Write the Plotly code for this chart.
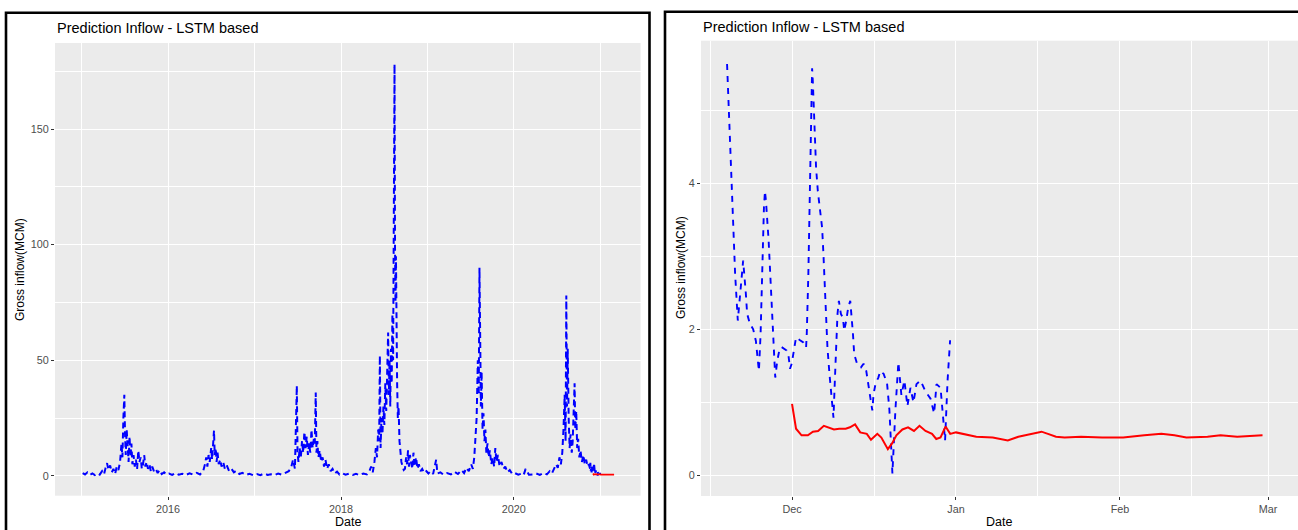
import pandas as pd
import plotly.graph_objects as go

# ---------------- data ----------------
hist_dates = [
    "2015-01-05", "2015-01-15", "2015-01-25", "2015-02-05", "2015-02-15", "2015-02-25", "2015-03-08", "2015-03-18",
    "2015-03-28", "2015-04-05", "2015-04-12", "2015-04-18", "2015-04-24", "2015-05-01", "2015-05-08", "2015-05-15",
    "2015-05-22", "2015-05-29", "2015-06-05", "2015-06-12", "2015-06-18", "2015-06-22", "2015-06-26", "2015-06-30",
    "2015-07-03", "2015-07-06", "2015-07-10", "2015-07-14", "2015-07-18", "2015-07-22", "2015-07-26", "2015-07-30",
    "2015-08-03", "2015-08-08", "2015-08-13", "2015-08-18", "2015-08-23", "2015-08-28", "2015-09-02", "2015-09-07",
    "2015-09-12", "2015-09-17", "2015-09-22", "2015-09-27", "2015-10-02", "2015-10-08", "2015-10-14", "2015-10-20",
    "2015-10-26", "2015-11-02", "2015-11-10", "2015-11-18", "2015-11-26", "2015-12-05", "2015-12-15", "2015-12-25",
    "2016-01-05", "2016-01-18", "2016-02-01", "2016-02-15", "2016-03-01", "2016-03-15", "2016-04-01", "2016-04-15",
    "2016-05-01", "2016-05-15", "2016-05-28", "2016-06-05", "2016-06-10", "2016-06-15", "2016-06-20", "2016-06-25",
    "2016-07-01", "2016-07-05", "2016-07-13", "2016-07-16", "2016-07-20", "2016-07-24", "2016-07-28", "2016-08-02",
    "2016-08-08", "2016-08-14", "2016-08-21", "2016-08-28", "2016-09-05", "2016-09-15", "2016-09-25", "2016-10-05",
    "2016-10-15", "2016-10-28", "2016-11-10", "2016-11-25", "2016-12-10", "2016-12-25",
    "2017-01-10", "2017-01-25", "2017-02-10", "2017-02-25", "2017-03-10", "2017-03-25", "2017-04-10", "2017-04-25",
    "2017-05-10", "2017-05-25", "2017-06-05", "2017-06-12", "2017-06-20", "2017-06-28", "2017-07-01", "2017-07-05",
    "2017-07-10", "2017-07-15", "2017-07-20", "2017-07-25", "2017-07-30", "2017-08-04", "2017-08-09", "2017-08-14",
    "2017-08-19", "2017-08-24", "2017-08-29", "2017-09-03", "2017-09-08", "2017-09-12", "2017-09-16", "2017-09-19",
    "2017-09-23", "2017-09-27", "2017-10-03", "2017-10-09", "2017-10-15", "2017-10-21", "2017-10-27", "2017-11-03",
    "2017-11-10", "2017-11-18", "2017-11-26", "2017-12-05", "2017-12-15", "2017-12-25",
    "2018-01-05", "2018-01-20", "2018-02-05", "2018-02-20", "2018-03-05", "2018-03-20", "2018-04-05", "2018-04-20",
    "2018-05-01", "2018-05-08", "2018-05-15", "2018-05-22", "2018-05-28", "2018-06-02", "2018-06-07", "2018-06-11",
    "2018-06-14", "2018-06-17", "2018-06-21", "2018-06-25", "2018-06-29", "2018-07-03", "2018-07-07", "2018-07-11",
    "2018-07-15", "2018-07-19", "2018-07-22", "2018-07-25", "2018-07-28", "2018-07-31", "2018-08-03", "2018-08-06",
    "2018-08-09", "2018-08-11", "2018-08-13", "2018-08-15", "2018-08-17", "2018-08-19", "2018-08-21", "2018-08-23",
    "2018-08-26", "2018-08-29", "2018-09-01", "2018-09-05", "2018-09-09", "2018-09-13", "2018-09-18", "2018-09-23",
    "2018-09-28", "2018-10-03", "2018-10-07", "2018-10-11", "2018-10-15", "2018-10-19", "2018-10-24", "2018-10-29",
    "2018-11-03", "2018-11-08", "2018-11-14", "2018-11-20", "2018-11-26", "2018-12-03", "2018-12-10", "2018-12-18",
    "2018-12-28",
    "2019-01-05", "2019-01-15", "2019-01-25", "2019-02-07", "2019-02-12", "2019-02-25", "2019-03-10", "2019-03-25",
    "2019-04-10", "2019-04-25", "2019-05-10", "2019-05-25", "2019-06-05", "2019-06-15", "2019-06-25", "2019-07-05",
    "2019-07-12", "2019-07-18", "2019-07-23", "2019-07-28", "2019-08-02", "2019-08-06", "2019-08-09", "2019-08-12",
    "2019-08-15", "2019-08-18", "2019-08-22", "2019-08-26", "2019-08-30", "2019-09-03", "2019-09-07", "2019-09-12",
    "2019-09-17", "2019-09-22", "2019-09-28", "2019-10-04", "2019-10-10", "2019-10-15", "2019-10-20", "2019-10-26",
    "2019-11-02", "2019-11-10", "2019-11-18", "2019-11-26", "2019-12-05", "2019-12-15", "2019-12-25",
    "2020-01-05", "2020-01-20", "2020-02-05", "2020-02-12", "2020-02-20", "2020-03-05", "2020-03-20", "2020-04-05",
    "2020-04-20", "2020-05-05", "2020-05-20", "2020-06-01", "2020-06-10", "2020-06-20", "2020-06-28", "2020-07-05",
    "2020-07-12", "2020-07-18", "2020-07-24", "2020-07-29", "2020-08-03", "2020-08-07", "2020-08-10", "2020-08-13",
    "2020-08-16", "2020-08-20", "2020-08-24", "2020-08-28", "2020-09-02", "2020-09-06", "2020-09-10", "2020-09-14",
    "2020-09-17", "2020-09-21", "2020-09-25", "2020-09-29", "2020-10-04", "2020-10-09", "2020-10-15", "2020-10-21",
    "2020-10-27", "2020-11-02", "2020-11-08", "2020-11-13",
]
hist_vals = [
    1.2, 0.6, 1.5, 0.4, 1.0, 0.3, 1.1, 0.5,
    2.0, 0.6, 3.5, 5.5, 2.5, 4.5, 1.5, 3.0,
    0.8, 4.0, 2.5, 6.0, 14, 8, 25, 35,
    18, 9, 20, 12, 6, 17, 8, 14,
    5, 9, 4, 7, 3, 11, 6, 8,
    3, 5, 9, 4, 6, 3, 5, 2,
    4, 2, 3, 1.2, 2.5, 0.8, 1.5, 0.5,
    1.0, 0.4, 1.2, 0.5, 0.9, 0.3, 1.1, 0.5,
    1.3, 0.6, 2.0, 5.0, 8.0, 4.0, 9.0, 6.0,
    12, 7, 19.6, 9, 12, 6, 10, 5,
    7, 4, 6, 3, 4.5, 2, 3, 1.5,
    2.2, 0.8, 1.3, 0.4, 0.9, 0.3,
    0.8, 0.3, 1.0, 0.4, 0.7, 0.3, 1.0, 0.5,
    1.2, 2.0, 4.0, 7.0, 3.0, 39, 10, 6,
    12, 8, 15, 10, 19, 12, 17, 9,
    14, 10, 20, 12, 16, 14, 36, 10,
    15, 8, 11, 6, 8, 4, 7, 3,
    5, 2, 3, 1.0, 1.8, 0.6,
    1.2, 0.5, 1.0, 0.4, 0.9, 0.3, 1.0, 0.6,
    2.0, 4.0, 1.5, 6.0, 12, 8, 20, 15,
    52, 12, 25, 18, 30, 22, 40, 28,
    45, 62, 35, 50, 30, 55, 40, 70,
    50, 90, 120, 178, 100, 75, 95, 55,
    40, 25, 30, 15, 10, 6, 4, 2.5,
    3.0, 8, 5, 11, 4, 9, 6, 3,
    10, 4, 8, 3, 5, 2, 3, 1.2,
    2.0,
    1.0, 2.0, 0.8, 7, 1.0, 1.5, 0.5, 1.2,
    0.6, 1.8, 0.8, 2.5, 1.2, 3.5, 2.0, 5,
    3, 8, 15, 25, 50, 35, 90, 60,
    30, 45, 20, 27, 15, 20, 10, 14,
    8, 11, 5, 8, 4, 12, 6, 9,
    4, 6, 3, 4, 1.5, 2.5, 0.8, 1.2,
    0.5, 1.0, 0.4, 3.0, 0.5, 0.6, 1.0, 0.4,
    1.2, 0.6, 2.0, 1.0, 3.0, 5.0, 3.5, 8.0,
    5, 10, 20, 35, 15, 78, 30, 55,
    25, 12, 18, 10, 15, 25, 40, 20,
    28, 12, 16, 8, 11, 6, 9, 5,
    7, 4, 5, 3,
]

# Recent observed inflow (days relative to 2020-12-01) and values (MCM)
recent_days = [
    -12.28, -11.44, -10.76, -10.25, -9.87, -9.24, -8.73, -8.48, -7.97, -7.34, -6.83, -6.26,
    -5.94, -5.69, -5.31, -5.12, -4.93, -4.42, -3.93, -3.42, -3.17, -2.79, -2.41, -2.03,
    -1.01, -0.63, -0.38, -0.06, 0.38, 0.76, 1.52, 2.14, 2.66, 2.79, 3.09, 3.28,
    3.47, 3.66, 3.80, 3.93, 4.12, 4.31, 4.55, 4.88, 5.31, 5.69, 5.94, 6.20,
    6.45, 6.70, 7.08, 7.46, 7.84, 8.10, 8.35, 8.60, 8.86, 9.24, 9.62, 9.87,
    10.25, 10.63, 11.01, 11.25, 11.52, 11.76, 12.33, 13.04, 13.53, 14.04, 14.42, 14.80,
    15.18, 15.43, 15.81, 16.32, 16.70, 17.32, 17.97, 18.41, 18.98, 19.55, 20.11, 20.68,
    21.25, 21.82, 22.39, 22.96, 23.53, 24.29, 25.24, 26.19, 26.87, 27.32, 28.08, 28.94,
    29.41, 29.89,
]
recent_vals = [
    5.63, 3.89, 2.76, 2.12, 2.44, 2.94, 2.49, 2.21, 2.08, 2.00, 1.84, 1.43,
    1.94, 2.66, 3.66, 3.89, 3.76, 3.21, 2.49, 1.71, 1.34, 1.57, 1.71, 1.76,
    1.71, 1.62, 1.46, 1.53, 1.71, 1.89, 1.85, 1.82, 1.75, 1.94, 2.76, 3.66,
    4.58, 5.26, 5.57, 5.40, 5.03, 4.58, 4.21, 3.89, 3.66, 3.39, 3.03, 2.57,
    2.16, 1.75, 1.39, 1.12, 0.79, 1.30, 1.84, 2.21, 2.39, 2.21, 2.16, 1.98,
    2.12, 2.30, 2.39, 2.21, 1.94, 1.66, 1.52, 1.48, 1.53, 1.43, 1.26, 1.07,
    0.89, 1.12, 1.26, 1.34, 1.43, 1.39, 1.26, 0.90, 0.03, 0.90, 1.55, 1.10,
    1.30, 0.95, 1.20, 1.00, 1.25, 1.30, 1.15, 1.05, 0.85, 1.25, 1.20, 0.48,
    1.30, 1.85,
]

# LSTM prediction (days relative to 2020-12-01) and values (MCM)
pred_days = [
    0, 0.76, 1.80, 3.0, 3.95, 4.93, 6.02, 6.98, 7.93, 8.92, 10.15, 10.95,
    11.92, 12.90, 14.14, 14.93, 16.13, 16.89, 18.12, 18.92, 19.73, 20.87, 21.94, 23.06,
    24.10, 25.24, 26.47, 27.27, 28.08, 29.03, 29.91, 31.0, 32.45, 34.84, 37.95, 40.80,
    42.79, 45.16, 47.17, 48.39, 49.91, 51.54, 54.65, 58.63, 62.62, 66.60, 69.83, 72.30,
    74.57, 78.56, 81.02, 84.17, 88.96,
]
pred_vals = [
    0.98, 0.64, 0.55, 0.55, 0.60, 0.61, 0.68, 0.66, 0.63, 0.64, 0.64, 0.66,
    0.70, 0.59, 0.57, 0.49, 0.57, 0.52, 0.36, 0.44, 0.55, 0.63, 0.66, 0.61,
    0.68, 0.61, 0.57, 0.50, 0.52, 0.67, 0.57, 0.59, 0.57, 0.53, 0.52, 0.48,
    0.53, 0.57, 0.60, 0.57, 0.53, 0.52, 0.53, 0.52, 0.52, 0.55, 0.57, 0.55,
    0.52, 0.53, 0.55, 0.53, 0.55,
]

ORIGIN = pd.Timestamp("2020-12-01")
recent_dates = ORIGIN + pd.to_timedelta(recent_days, unit="D")
pred_dates = ORIGIN + pd.to_timedelta(pred_days, unit="D")
obs_dates_all = list(pd.to_datetime(hist_dates)) + list(recent_dates)
obs_vals_all = hist_vals + recent_vals

TITLE = "Prediction Inflow - LSTM based"
YTITLE = "Gross inflow(MCM)"
XTITLE = "Date"

# ---------------- figure ----------------
W, H = 1298, 530
FONT = "Liberation Sans, Arial, sans-serif"
BLUE, RED = "#0000FF", "#FF0000"


def fx(p):
    return p / W


def fy(p):
    return 1 - p / H


fig = go.Figure()
fig.add_trace(go.Scatter(x=obs_dates_all, y=obs_vals_all, mode="lines",
                         line=dict(color=BLUE, width=2, dash="6px,4px"),
                         xaxis="x", yaxis="y", showlegend=False))
fig.add_trace(go.Scatter(x=pred_dates, y=pred_vals, mode="lines",
                         line=dict(color=RED, width=1.8),
                         xaxis="x", yaxis="y", showlegend=False))
fig.add_trace(go.Scatter(x=recent_dates, y=recent_vals, mode="lines",
                         line=dict(color=BLUE, width=1.9, dash="6px,6px"),
                         xaxis="x2", yaxis="y2", showlegend=False))
fig.add_trace(go.Scatter(x=pred_dates, y=pred_vals, mode="lines",
                         line=dict(color=RED, width=2),
                         xaxis="x2", yaxis="y2", showlegend=False))

tickfont = dict(family=FONT, size=10.8, color="#4D4D4D")
common = dict(showgrid=True, gridcolor="white", gridwidth=1.1, zeroline=False, showline=False,
              ticks="outside", ticklen=3, tickwidth=1, tickcolor="#333333", tickfont=tickfont)

fig.update_layout(
    width=W, height=H, autosize=False,
    margin=dict(l=0, r=0, t=0, b=0),
    paper_bgcolor="white", plot_bgcolor="#EBEBEB",
    font=dict(family=FONT, color="black"),
    xaxis=dict(**common, domain=[fx(55), fx(640.6)], anchor="y", type="date",
               range=["2014-09-10", "2021-06-20"],
               tickvals=["2016-01-01", "2018-01-01", "2020-01-01"], ticktext=["2016", "2018", "2020"],
               minor=dict(tickvals=["2015-01-01", "2017-01-01", "2019-01-01", "2021-01-01"],
                          showgrid=True, gridcolor="white", gridwidth=0.55, ticks="")),
    yaxis=dict(**common, domain=[fy(495.7), fy(43)], anchor="x",
               range=[-8.6, 187.2], tickvals=[0, 50, 100, 150],
               minor=dict(tickvals=[25, 75, 125, 175], showgrid=True, gridcolor="white",
                          gridwidth=0.55, ticks="")),
    xaxis2=dict(**common, domain=[fx(701), 1.0], anchor="y2", type="date",
                range=["2020-11-13 19:00", "2021-03-06 16:00"],
                tickvals=["2020-12-01", "2021-01-01", "2021-02-01", "2021-03-01"],
                ticktext=["Dec", "Jan", "Feb", "Mar"],
                minor=dict(tickvals=["2020-11-15 12:00", "2020-12-16 12:00", "2021-01-16 12:00",
                                     "2021-02-14 12:00"],
                           showgrid=True, gridcolor="white", gridwidth=0.55, ticks="")),
    yaxis2=dict(**common, domain=[fy(496), fy(40.7)], anchor="x2",
                range=[-0.28, 5.948], tickvals=[0, 2, 4],
                minor=dict(tickvals=[1, 3, 5], showgrid=True, gridcolor="white",
                           gridwidth=0.55, ticks="")),
)

ann = []
for xl, yc in [(55, 28), (701, 27)]:
    ann.append(dict(text=TITLE, x=fx(xl), y=fy(yc), xref="paper", yref="paper",
                    xanchor="left", yanchor="middle", showarrow=False,
                    font=dict(family=FONT, size=14.5, color="black")))
for xc, yc in [(20, 270), (681, 268)]:
    ann.append(dict(text=YTITLE, x=fx(xc), y=fy(yc), xref="paper", yref="paper",
                    xanchor="center", yanchor="middle", textangle=-90, showarrow=False,
                    font=dict(family=FONT, size=12, color="black")))
for xc in [348, 999]:
    ann.append(dict(text=XTITLE, x=fx(xc), y=fy(522), xref="paper", yref="paper",
                    xanchor="center", yanchor="middle", showarrow=False,
                    font=dict(family=FONT, size=12.5, color="black")))
fig.update_layout(annotations=ann)

# screenshot frames around the two panels
fig.add_shape(type="rect", xref="paper", yref="paper",
              x0=fx(6), x1=fx(649.5), y0=fy(540), y1=fy(12.7),
              line=dict(color="black", width=2.6), fillcolor="rgba(0,0,0,0)", layer="above")
fig.add_shape(type="rect", xref="paper", yref="paper",
              x0=fx(665), x1=fx(1310), y0=fy(540), y1=fy(11.7),
              line=dict(color="black", width=2.6), fillcolor="rgba(0,0,0,0)", layer="above")

fig.write_html("out.html", config={"displayModeBar": False},
               post_script="document.body.style.margin='0';")
